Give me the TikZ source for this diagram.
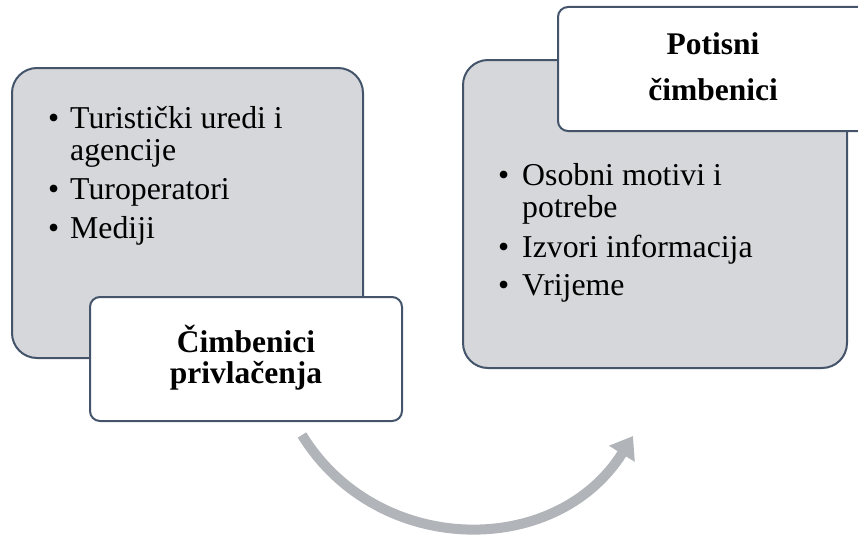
\documentclass[tikz,border=0pt]{standalone}
\usepackage{fontspec}
\setmainfont{Liberation Serif}
\usetikzlibrary{arrows.meta}
\definecolor{boxfill}{HTML}{D5D7DA}
\definecolor{boxline}{HTML}{44546A}
\definecolor{arrowgray}{HTML}{B1B4B9}
\begin{document}
\begin{tikzpicture}[x=1pt,y=-1pt,
  card/.style={draw=boxline, line width=2pt, fill=boxfill, rounded corners=25pt, inner sep=0pt},
  tag/.style={draw=boxline, line width=2pt, fill=white, rounded corners=10pt, inner sep=0pt},
  item/.style={anchor=base west, inner sep=0pt, font=\fontsize{31.8}{33}\selectfont},
  head/.style={anchor=base, inner sep=0pt, font=\fontsize{31.5}{33}\selectfont\bfseries},
  flow/.style={draw=arrowgray, line width=10pt, -{Triangle[width=29pt,length=21pt]}}]
\useasboundingbox (0,0) rectangle (858,535);
% left card
\node[card, minimum width=351, minimum height=290] (lcard) at (187.5,213) {};
\node[item] (lb1) at (48,128) {•};
\node[item] (l1a) at (70,128) {Turistički uredi i};
\node[item] (l1b) at (70,160) {agencije};
\node[item] (lb2) at (48,199) {•};
\node[item] (l2) at (70,199) {Turoperatori};
\node[item] (lb3) at (48,238) {•};
\node[item] (l3) at (70,238) {Mediji};
\node[tag, minimum width=312, minimum height=124] (ltag) at (246,359) {};
\node[head] (lh1) at (246,352) {Čimbenici};
\node[head] (lh2) at (246,383) {privlačenja};
% right card
\node[card, minimum width=384, minimum height=308] (rcard) at (655,214) {};
\node[item] (rb1) at (498,185) {•};
\node[item] (r1a) at (522,185) {Osobni motivi i};
\node[item] (r1b) at (522,217) {potrebe};
\node[item] (rb2) at (498,257) {•};
\node[item] (r2) at (522,257) {Izvori informacija};
\node[item] (rb3) at (498,295) {•};
\node[item] (r3) at (522,295) {Vrijeme};
\node[tag, minimum width=310, minimum height=124] (rtag) at (713,69) {};
\node[head] (rh1) at (713,55) {Potisni};
\node[head] (rh2) at (713,100) {čimbenici};
% arrow
\coordinate (as) at (302,435);
\coordinate (ae) at (633,436);
\draw[flow] (as) .. controls (377,557) and (556,559) .. (ae);
\end{tikzpicture}
\end{document}
